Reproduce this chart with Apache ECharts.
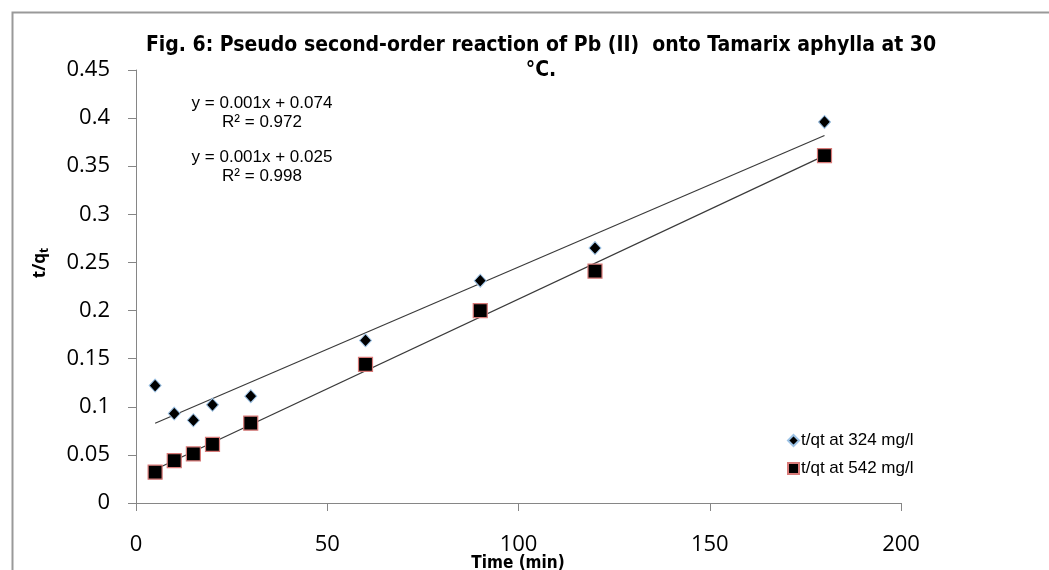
<!DOCTYPE html>
<html>
<head>
<meta charset="utf-8">
<script src="https://cdn.jsdelivr.net/npm/echarts@6/dist/echarts.min.js"></script>
<style>
html,body{margin:0;padding:0;background:#fff;}
#chart{width:1049px;height:570px;}
</style>
</head>
<body>
<div id="chart"></div>
<script>
// ---- data ----
var timeMin = [5, 10, 15, 20, 30, 60, 90, 120, 180];
var tq324 = [0.122, 0.093, 0.086, 0.102, 0.111, 0.169, 0.231, 0.265, 0.396];
var tq542 = [0.032, 0.044, 0.051, 0.061, 0.083, 0.144, 0.200, 0.241, 0.361];
var seriesNames = ['t/qt at 324 mg/l', 't/qt at 542 mg/l'];
var eqLabels = ['y = 0.001x + 0.074', 'R² = 0.972', 'y = 0.001x + 0.025', 'R² = 0.998'];
var titleText = 'Fig. 6: Pseudo second-order reaction of Pb (II)  onto Tamarix aphylla at 30\n°C.';
var xAxisTitle = 'Time (min)';

function pairs(xs, ys) { return xs.map(function (x, i) { return [x, ys[i]]; }); }
function trend(xs, ys) {
  var n = xs.length, mx = 0, my = 0;
  for (var i = 0; i < n; i++) { mx += xs[i]; my += ys[i]; }
  mx /= n; my /= n;
  var sxy = 0, sxx = 0;
  for (i = 0; i < n; i++) { sxy += (xs[i] - mx) * (ys[i] - my); sxx += (xs[i] - mx) * (xs[i] - mx); }
  var b = sxy / sxx, a = my - b * mx;
  var x0 = xs[0], x1 = xs[n - 1];
  return [[x0, a + b * x0], [x1, a + b * x1]];
}

var chart = echarts.init(document.getElementById('chart'));
var narrow = "'Liberation Sans Narrow', 'DejaVu Sans Condensed', sans-serif";
var axisFont = "'Open Sans', 'Liberation Sans', sans-serif";
var eqFont = "17px 'Liberation Sans', sans-serif";
chart.setOption({
  animation: false,
  backgroundColor: '#fff',
  title: {
    text: titleText,
    left: 536, top: 28, textAlign: 'center',
    textStyle: { fontFamily: narrow, fontWeight: 'bold', fontSize: 21, color: '#000', lineHeight: 25 }
  },
  grid: { left: 136, right: 148, top: 70, bottom: 67, containLabel: false, outerBoundsMode: 'none' },
  xAxis: {
    type: 'value', min: 0, max: 200, interval: 50,
    axisLine: { lineStyle: { color: '#868686', width: 1 } },
    axisTick: { show: true, length: 8, lineStyle: { color: '#868686' } },
    axisLabel: { fontFamily: axisFont, fontSize: 22, color: '#000', margin: 31 },
    splitLine: { show: false }
  },
  yAxis: {
    type: 'value', min: 0, max: 0.45, interval: 0.05,
    axisLine: { show: true, lineStyle: { color: '#868686', width: 1 } },
    axisTick: { show: true, length: 8, lineStyle: { color: '#868686' } },
    axisLabel: { fontFamily: axisFont, fontSize: 22, color: '#000', margin: 26 },
    splitLine: { show: false }
  },
  legend: {
    data: seriesNames,
    orient: 'vertical', left: 782, top: 427, itemGap: 11,
    itemWidth: 11, itemHeight: 11,
    textStyle: { fontFamily: "'Liberation Sans', sans-serif", fontSize: 17, color: '#000', padding: [0, 0, 0, -3] }
  },
  graphic: [
    { type: 'rect', left: 10, top: 10, silent: true, z: -1,
      shape: { width: 1100, height: 620 }, style: { fill: 'none', stroke: '#999', lineWidth: 2 } },
    { type: 'text', x: 518, y: 564, silent: true, z: 10,
      style: { text: xAxisTitle, align: 'center', verticalAlign: 'middle', fill: '#000',
        font: "bold 17px " + narrow } },
    { type: 'text', x: 40, y: 263, rotation: Math.PI / 2, silent: true,
      style: {
        text: '{a|t/q}{b|t}', align: 'center', verticalAlign: 'middle',
        rich: {
          a: { fontFamily: axisFont, fontWeight: 'bold', fontSize: 17, fill: '#000' },
          b: { fontFamily: axisFont, fontWeight: 'bold', fontSize: 12, fill: '#000', padding: [9, 0, 0, 0] }
        }
      } },
    { type: 'text', x: 262, y: 103, style: { text: eqLabels[0], align: 'center', verticalAlign: 'middle', fill: '#000', font: eqFont } },
    { type: 'text', x: 262, y: 122, style: { text: eqLabels[1], align: 'center', verticalAlign: 'middle', fill: '#000', font: eqFont } },
    { type: 'text', x: 262, y: 157, style: { text: eqLabels[2], align: 'center', verticalAlign: 'middle', fill: '#000', font: eqFont } },
    { type: 'text', x: 262, y: 176, style: { text: eqLabels[3], align: 'center', verticalAlign: 'middle', fill: '#000', font: eqFont } }
  ],
  series: [
    { name: seriesNames[0] + ' trend', type: 'line', data: trend(timeMin, tq324), symbol: 'none',
      lineStyle: { color: '#3a3a3a', width: 1.2 }, z: 1, silent: true },
    { name: seriesNames[1] + ' trend', type: 'line', data: trend(timeMin, tq542), symbol: 'none',
      lineStyle: { color: '#3a3a3a', width: 1.2 }, z: 1, silent: true },
    { name: seriesNames[0], type: 'scatter', data: pairs(timeMin, tq324), symbol: 'diamond', symbolSize: [12, 13],
      itemStyle: { color: '#000', borderColor: '#9dc3e6', borderWidth: 1, opacity: 1 }, z: 3 },
    { name: seriesNames[1], type: 'scatter', data: pairs(timeMin, tq542), symbol: 'rect', symbolSize: 14,
      itemStyle: { color: '#000', borderColor: '#d87a78', borderWidth: 1.2, opacity: 1 }, z: 3 }
  ]
});
</script>
</body>
</html>
